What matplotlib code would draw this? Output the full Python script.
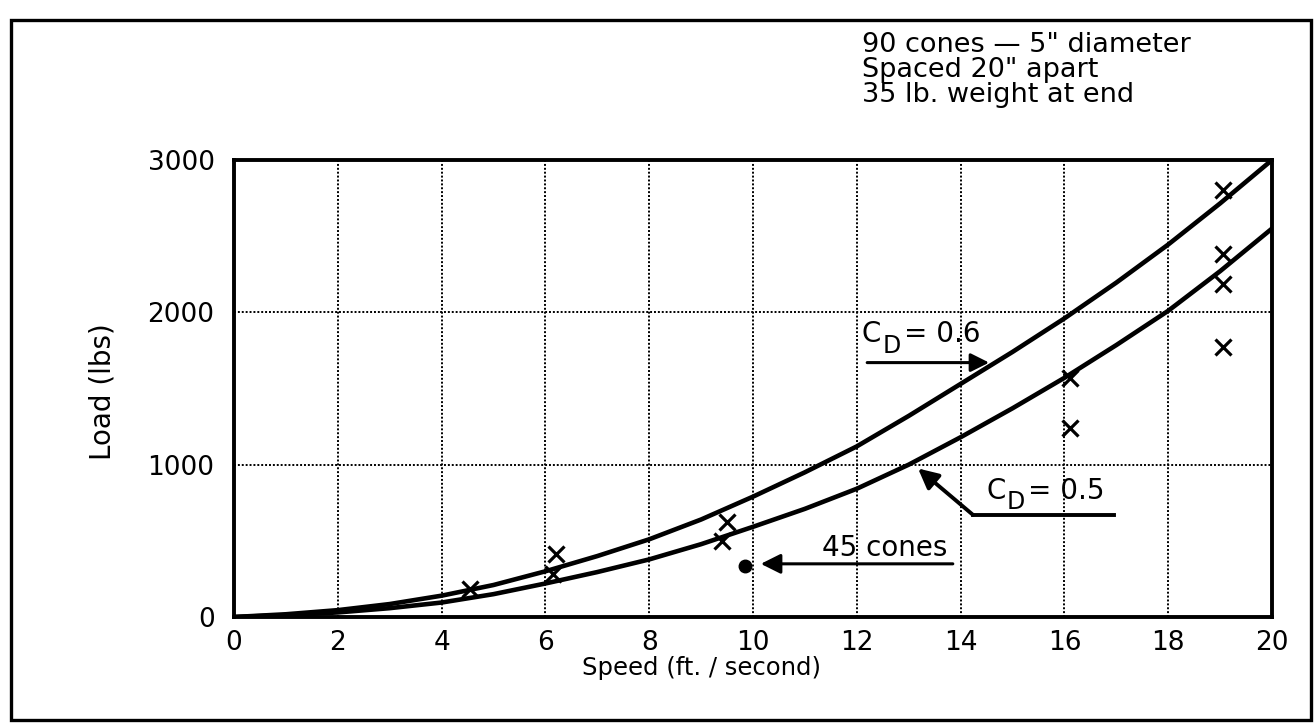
import matplotlib
matplotlib.use("Agg")
import matplotlib.pyplot as plt
from matplotlib.patches import Rectangle

# ---- data ----
speed_grid = [0, 1, 2, 3, 4, 5, 6, 7, 8, 9, 10, 11, 12, 13, 14, 15, 16, 17, 18, 19, 20]
load_cd06 = [0, 18, 45, 85, 140, 210, 300, 400, 510, 640, 790, 950, 1120, 1320,
             1530, 1740, 1960, 2195, 2445, 2715, 3000]
load_cd05 = [0, 12, 30, 58, 95, 150, 220, 295, 378, 478, 592, 710, 842, 1000,
             1180, 1370, 1570, 1785, 2010, 2270, 2550]

test_speed = [4.55, 6.2, 6.15, 9.5, 9.4, 16.1, 16.1, 19.05, 19.05, 19.05, 19.05]
test_load = [184, 414, 283, 625, 500, 1572, 1243, 2803, 2382, 2184, 1770]

cones45_speed = [9.84]
cones45_load = [335]

x_ticks = [0, 2, 4, 6, 8, 10, 12, 14, 16, 18, 20]
y_ticks = [0, 1000, 2000, 3000]

info_lines = ['90 cones \u2014 5" diameter', 'Spaced 20" apart', '35 lb. weight at end']

plt.rcParams['font.family'] = ['DejaVu Sans']

W, H = 1314, 728
fig = plt.figure(figsize=(W / 100, H / 100), dpi=100)
fig.patch.set_facecolor('white')

# axes placement (pixels -> figure fraction)
L, R, T, B = 234, 1272, 160, 617
ax = fig.add_axes([L / W, 1 - B / H, (R - L) / W, (B - T) / H])

ax.set_xlim(0, 20)
ax.set_ylim(0, 3000)
ax.set_xticks(x_ticks)
ax.set_yticks(y_ticks)
ax.tick_params(length=0, labelsize=19, colors='black')
ax.tick_params(axis='x', pad=9)
ax.tick_params(axis='y', pad=14)

for s in ax.spines.values():
    s.set_linewidth(2.8)
    s.set_color('black')

ax.grid(True, color='black', linestyle=(0, (1, 1.0)), linewidth=1.4)
ax.set_axisbelow(True)

# curves
ax.plot(speed_grid, load_cd06, color='black', lw=3.3, solid_capstyle='round', zorder=3)
ax.plot(speed_grid, load_cd05, color='black', lw=3.3, solid_capstyle='round', zorder=3)

# test points
ax.plot(test_speed, test_load, linestyle='none', marker='x', ms=11.5, mew=2.3,
        color='black', zorder=4)
ax.plot(cones45_speed, cones45_load, linestyle='none', marker='o', ms=9,
        color='black', zorder=4)


def cd_label(x, y, value):
    # "C" with a large dropped "D" subscript, then "= value"
    kw = dict(xycoords='data', textcoords='offset points', ha='left', va='center')
    ax.annotate('C', xy=(x, y), xytext=(0, 0), fontsize=20, **kw)
    ax.annotate('D', xy=(x, y), xytext=(14.5, -8), fontsize=17, **kw)
    ax.annotate('= ' + value, xy=(x, y), xytext=(30, 0), fontsize=20, **kw)


# annotations
cd_label(12.1, 1855, '0.6')
ax.annotate('', xy=(14.55, 1670), xytext=(12.2, 1670),
            arrowprops=dict(arrowstyle='-|>', color='black', lw=2.2,
                            mutation_scale=28, shrinkA=0, shrinkB=0))

cd_label(14.5, 830, '0.5')
ax.plot([14.24, 16.95], [670, 670], color='black', lw=2.8, zorder=3)
ax.annotate('', xy=(13.18, 975), xytext=(14.24, 670),
            arrowprops=dict(arrowstyle='-|>', color='black', lw=2.8,
                            mutation_scale=30, shrinkA=0, shrinkB=0))

ax.text(13.75, 455, '45 cones', fontsize=20, ha='right', va='center')
ax.annotate('', xy=(10.15, 349), xytext=(13.85, 349),
            arrowprops=dict(arrowstyle='-|>', color='black', lw=2.2,
                            mutation_scale=30, shrinkA=0, shrinkB=0))

# axis labels
fig.text(701 / W, 1 - 668 / H, 'Speed (ft. / second)', fontsize=17.5,
         ha='center', va='center')
fig.text(103 / W, 1 - 392 / H, 'Load (lbs)', fontsize=20, rotation=90,
         ha='center', va='center')

# info block (single multi-line text with tight leading)
fig.text(862 / W, 1 - 70 / H, '\n'.join(info_lines), fontsize=19.5,
         ha='left', va='center', linespacing=0.95)

# outer frame
fig.patches.append(Rectangle((11 / W, 1 - 720 / H), (1311 - 11) / W, (720 - 20) / H,
                             transform=fig.transFigure, fill=False,
                             edgecolor='black', linewidth=2.4))

fig.savefig('out.png', dpi=100, facecolor='white')
